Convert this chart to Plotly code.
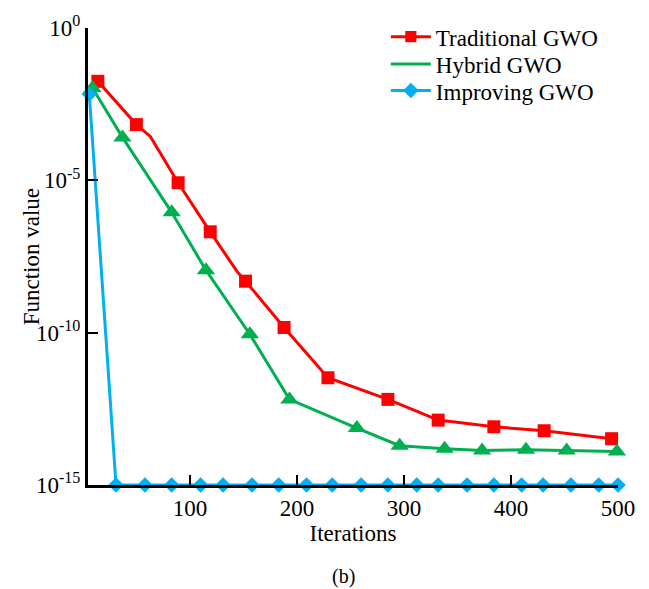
import plotly.graph_objects as go

# Traditional GWO (red squares); bend points without markers have size 0
trad_x = [14, 50, 63, 89, 119, 144, 152, 188, 229, 285, 332, 384, 431, 494]
trad_logy = [-1.75, -3.17, -3.56, -5.08, -6.69, -7.99, -8.31, -9.83, -11.48, -12.19, -12.87, -13.09, -13.22, -13.48]
trad_marker = [1, 1, 0, 1, 1, 0, 1, 1, 1, 1, 1, 1, 1, 1]

hyb_x = [9, 37, 83, 115, 156, 193, 256, 296, 338, 373, 414, 452, 499]
hyb_logy = [-1.97, -3.59, -6.05, -7.95, -10.05, -12.19, -13.13, -13.71, -13.81, -13.87, -13.84, -13.87, -13.90]

imp_x = [6, 31, 58, 83, 110, 131, 158, 183, 209, 233, 260, 285, 312, 332, 359, 384, 410, 430, 456, 482, 500]
imp_logy = [-2.17] + [-15.0] * 20

ytick_vals = [1, 1e-5, 1e-10, 1e-15]
ytick_text = ["10<sup>0</sup>", "10<sup>-5</sup>", "10<sup>-10</sup>", "10<sup>-15</sup>"]
xtick_vals = [100, 200, 300, 400, 500]

FONT = "Liberation Serif"
FS = 23
RED, GREEN, BLUE = "#FF0000", "#00B050", "#00B0F0"

fig = go.Figure()
fig.add_trace(go.Scatter(
    x=trad_x, y=[10 ** v for v in trad_logy], name="Traditional GWO", mode="lines+markers",
    line=dict(color=RED, width=3),
    marker=dict(symbol="square", size=[13 * m for m in trad_marker], color=RED,
                opacity=1, line=dict(width=0)),
    cliponaxis=False, legend="legend"))
# legend entry for Hybrid GWO (line only, as in the reference legend)
fig.add_trace(go.Scatter(
    x=[None], y=[None], name="Hybrid GWO", mode="lines",
    line=dict(color=GREEN, width=3), legend="legend2"))
fig.add_trace(go.Scatter(
    x=hyb_x, y=[10 ** v for v in hyb_logy], name="Hybrid GWO", mode="lines+markers",
    line=dict(color=GREEN, width=3),
    marker=dict(symbol="triangle-up", size=16, color=GREEN, opacity=1, line=dict(width=0)),
    cliponaxis=False, showlegend=False))
fig.add_trace(go.Scatter(
    x=imp_x, y=[10 ** v for v in imp_logy], name="Improving GWO", mode="lines+markers",
    line=dict(color=BLUE, width=3),
    marker=dict(symbol="diamond", size=12, color=BLUE, opacity=1, line=dict(width=0)),
    cliponaxis=False, legend="legend3"))

leg_common = dict(x=0.562, xanchor="left", yanchor="middle", bgcolor="rgba(0,0,0,0)",
                  font=dict(family=FONT, size=FS), itemwidth=40)

fig.update_layout(
    width=649, height=589,
    margin=dict(l=88, r=31, t=21, b=104),
    paper_bgcolor="white", plot_bgcolor="white",
    font=dict(family=FONT, size=FS, color="black"),
    showlegend=True,
    legend=dict(y=0.981, **leg_common),
    legend2=dict(y=0.921, **leg_common),
    legend3=dict(y=0.863, **leg_common),
    xaxis=dict(range=[4.8, 500], tickvals=xtick_vals, ticks="inside", ticklen=10,
               tickwidth=2, tickcolor="black", showline=True, linecolor="black",
               linewidth=3, showgrid=False, zeroline=False,
               tickfont=dict(family=FONT, size=FS),
               title=dict(text="Iterations", font=dict(family=FONT, size=FS), standoff=4)),
    yaxis=dict(type="log", range=[-15, 0], tickvals=ytick_vals, ticktext=ytick_text,
               ticks="inside", ticklen=10, tickwidth=2, tickcolor="black",
               showline=True, linecolor="black", linewidth=3, showgrid=False,
               zeroline=False, tickfont=dict(family=FONT, size=FS)),
    annotations=[
        dict(text="Function value", xref="paper", yref="paper", x=-0.106, y=0.5,
             xanchor="center", yanchor="middle", textangle=-90, showarrow=False,
             font=dict(family=FONT, size=FS)),
        dict(text="(b)", xref="paper", yref="paper", x=0.483, y=-0.2,
             xanchor="center", yanchor="middle", showarrow=False,
             font=dict(family=FONT, size=20)),
    ],
)

fig.write_html("out.html")
